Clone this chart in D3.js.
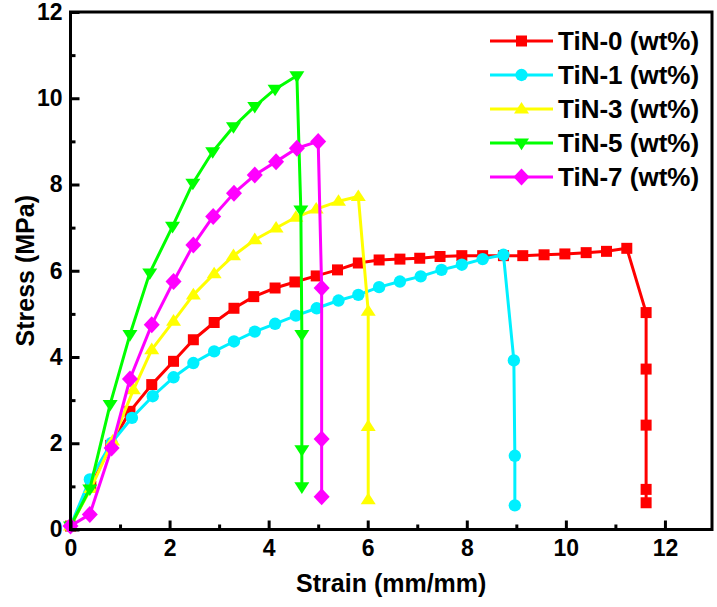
<!DOCTYPE html>
<html>
<head>
<meta charset="utf-8">
<script src="https://cdn.jsdelivr.net/npm/d3@7"></script>
<style>
  html, body { margin: 0; padding: 0; background: #fff; }
  svg { display: block; font-family: "Liberation Sans", Arial, sans-serif; font-weight: bold; }
</style>
</head>
<body>
<svg id="chart" width="717" height="607"></svg>
<script>
// ---- data ----
const seriesNames = ["TiN-0 (wt%)", "TiN-1 (wt%)", "TiN-3 (wt%)", "TiN-5 (wt%)", "TiN-7 (wt%)"];
const seriesColors = ["#ff0000", "#00f0ff", "#ffff00", "#00ff00", "#ff00ff"];

const strain0 = [0, 0.41, 0.81, 1.20, 1.64, 2.08, 2.48, 2.90, 3.30, 3.70, 4.13, 4.53, 4.96, 5.39, 5.81, 6.23, 6.65, 7.05, 7.46, 7.90, 8.32, 8.74, 9.13, 9.56, 9.98, 10.41, 10.82, 11.23, 11.62, 11.62, 11.62, 11.62, 11.62];
const stress0 = [0.08, 1.00, 1.95, 2.74, 3.36, 3.90, 4.40, 4.80, 5.13, 5.40, 5.60, 5.74, 5.88, 6.02, 6.18, 6.25, 6.27, 6.29, 6.33, 6.35, 6.35, 6.35, 6.35, 6.37, 6.39, 6.42, 6.45, 6.52, 5.03, 3.72, 2.42, 0.93, 0.62];

const strain1 = [0, 0.39, 0.83, 1.24, 1.66, 2.08, 2.48, 2.90, 3.30, 3.72, 4.13, 4.55, 4.97, 5.41, 5.81, 6.23, 6.65, 7.07, 7.49, 7.90, 8.32, 8.74, 8.95, 8.97, 8.97];
const stress1 = [0.08, 1.16, 2.01, 2.59, 3.09, 3.53, 3.86, 4.13, 4.36, 4.59, 4.77, 4.96, 5.13, 5.31, 5.44, 5.62, 5.75, 5.87, 6.02, 6.14, 6.27, 6.37, 3.92, 1.71, 0.56];

const strain3 = [0, 0.41, 0.85, 1.27, 1.64, 2.08, 2.48, 2.90, 3.29, 3.72, 4.15, 4.55, 4.96, 5.41, 5.81, 6.01, 6.01, 6.01];
const stress3 = [0.08, 0.95, 2.05, 3.24, 4.17, 4.83, 5.44, 5.93, 6.35, 6.72, 6.99, 7.24, 7.43, 7.61, 7.72, 5.06, 2.39, 0.69];

const strain5 = [0, 0.39, 0.80, 1.20, 1.60, 2.06, 2.47, 2.87, 3.29, 3.72, 4.13, 4.57, 4.65, 4.67, 4.67, 4.67];
const stress5 = [0.08, 0.94, 2.90, 4.52, 5.95, 7.03, 8.03, 8.76, 9.34, 9.81, 10.21, 10.52, 7.41, 4.52, 1.85, 0.99];

const strain7 = [0, 0.39, 0.83, 1.20, 1.64, 2.08, 2.48, 2.88, 3.30, 3.72, 4.15, 4.57, 5.00, 5.07, 5.07, 5.07];
const stress7 = [0.08, 0.35, 1.89, 3.49, 4.75, 5.75, 6.60, 7.26, 7.80, 8.22, 8.53, 8.84, 9.00, 5.60, 2.10, 0.76];

const xMajorTicks = [0, 2, 4, 6, 8, 10, 12];
const xMinorTicks = [1, 3, 5, 7, 9, 11];
const yMajorTicks = [0, 2, 4, 6, 8, 10, 12];
const yMinorTicks = [1, 3, 5, 7, 9, 11];
const xTitle = "Strain (mm/mm)";
const yTitle = "Stress (MPa)";

// ---- layout ----
const svg = d3.select("#chart");
const mLeft = 70.5, mRight = 712, mTop = 12, mBottom = 529.5;
const x = d3.scaleLinear().domain([0, 12.95]).range([mLeft, mRight]);
const y = d3.scaleLinear().domain([0, 12]).range([mBottom, mTop]);

const strains = [strain0, strain1, strain3, strain5, strain7];
const stresses = [stress0, stress1, stress3, stress5, stress7];
const series = seriesNames.map((name, i) => ({
  name, color: seriesColors[i],
  points: strains[i].map((s, j) => ({ x: s, y: stresses[i][j] }))
}));

// marker shapes
const diamondSym = {
  draw(ctx, size) {
    const w = 8, h = 8.5;
    ctx.moveTo(0, -h); ctx.lineTo(w, 0); ctx.lineTo(0, h); ctx.lineTo(-w, 0); ctx.closePath();
  }
};
const triDownSym = {
  draw(ctx, size) {
    const s = 7.5;
    ctx.moveTo(-s, -s * 0.6); ctx.lineTo(s, -s * 0.6); ctx.lineTo(0, s * 0.95); ctx.closePath();
  }
};
const triUpSym = {
  draw(ctx, size) {
    const s = 7.5;
    ctx.moveTo(-s, s * 0.6); ctx.lineTo(s, s * 0.6); ctx.lineTo(0, -s * 0.95); ctx.closePath();
  }
};
const symbols = [
  d3.symbol().type(d3.symbolSquare).size(121),
  d3.symbol().type(d3.symbolCircle).size(120),
  d3.symbol().type(triUpSym),
  d3.symbol().type(triDownSym),
  d3.symbol().type(diamondSym)
];

// ---- axes ----
const fontTick = 23;
const xAxisMajor = d3.axisBottom(x).tickValues(xMajorTicks).tickSize(-9).tickPadding(10).tickFormat(d3.format("d"));
const xAxisMinor = d3.axisBottom(x).tickValues(xMinorTicks).tickSize(-5).tickFormat("");
const yAxisMajor = d3.axisLeft(y).tickValues(yMajorTicks).tickSize(-9).tickPadding(8).tickFormat(d3.format("d"));
const yAxisMinor = d3.axisLeft(y).tickValues(yMinorTicks).tickSize(-5).tickFormat("");

function styleAxis(g) {
  g.select(".domain").remove();
  g.selectAll(".tick line").attr("stroke", "#000").attr("stroke-width", 3);
  g.selectAll(".tick text").attr("fill", "#000").style("font-size", fontTick + "px")
    .style("font-weight", "bold").style("font-family", "'Liberation Sans', Arial, sans-serif");
}

// ---- lines & markers ----
const line = d3.line().x(d => x(d.x)).y(d => y(d.y));
const plot = svg.append("g");
series.forEach((s, i) => {
  const g = plot.append("g");
  g.append("path").datum(s.points).attr("d", line)
    .attr("fill", "none").attr("stroke", s.color).attr("stroke-width", 3).attr("stroke-linejoin", "round");
  g.selectAll("path.m").data(s.points).enter().append("path").attr("class", "m")
    .attr("transform", d => `translate(${x(d.x)},${y(d.y)})`)
    .attr("d", symbols[i]()).attr("fill", s.color);
});

svg.append("g").attr("transform", `translate(0,${mBottom})`).call(xAxisMajor).call(styleAxis);
svg.append("g").attr("transform", `translate(0,${mBottom})`).call(xAxisMinor).call(styleAxis);
svg.append("g").attr("transform", `translate(${mLeft},0)`).call(yAxisMajor).call(styleAxis);
svg.append("g").attr("transform", `translate(${mLeft},0)`).call(yAxisMinor).call(styleAxis);

// frame
svg.append("rect").attr("x", mLeft).attr("y", mTop).attr("width", mRight - mLeft).attr("height", mBottom - mTop)
  .attr("fill", "none").attr("stroke", "#000").attr("stroke-width", 3);

// ---- axis titles ----
svg.append("text").attr("x", (mLeft + mRight) / 2).attr("y", 592).attr("text-anchor", "middle")
  .style("font-size", "25px").attr("fill", "#000").text(xTitle);
svg.append("text").attr("transform", `translate(34,${(mTop + mBottom) / 2}) rotate(-90)`).attr("text-anchor", "middle")
  .style("font-size", "25px").attr("fill", "#000").text(yTitle);

// ---- legend ----
const legend = svg.append("g");
series.forEach((s, i) => {
  const ly = 41 + i * 34;
  const g = legend.append("g");
  g.append("line").attr("x1", 490).attr("x2", 553).attr("y1", ly).attr("y2", ly)
    .attr("stroke", s.color).attr("stroke-width", 3);
  g.append("path").attr("transform", `translate(521.5,${ly})`).attr("d", symbols[i]()).attr("fill", s.color);
  g.append("text").attr("x", 558).attr("y", ly).attr("dy", "0.36em")
    .style("font-size", "26px").attr("fill", "#000").text(s.name);
});
</script>
</body>
</html>
